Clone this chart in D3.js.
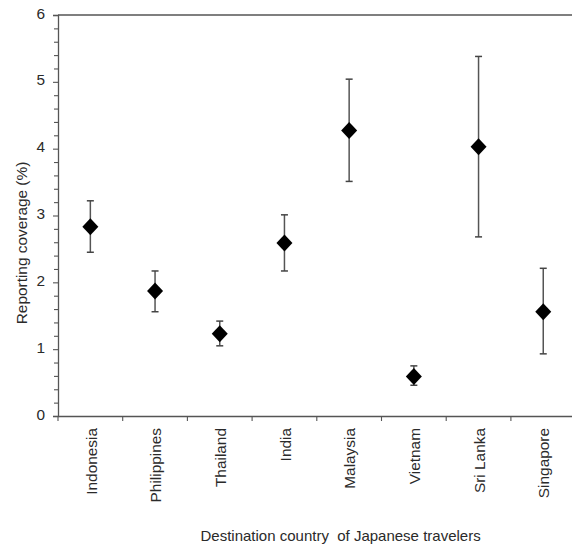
<!DOCTYPE html>
<html><head><meta charset="utf-8">
<script src="https://cdn.jsdelivr.net/npm/d3@7"></script>
<style>body{margin:0;background:#fff}svg{display:block}</style>
</head><body>
<svg id="c" width="572" height="547"></svg>
<script>
const categories = ["Indonesia","Philippines","Thailand","India","Malaysia","Vietnam","Sri Lanka","Singapore"];
const values = [2.83,1.87,1.23,2.59,4.27,0.59,4.03,1.56];
const upper = [3.22,2.17,1.42,3.01,5.04,0.75,5.38,2.21];
const lower = [2.45,1.56,1.05,2.17,3.51,0.46,2.68,0.93];
const yTicks = [0,1,2,3,4,5,6];

const svg = d3.select("#c");
const L = 58, R = 575.6, T = 15, B = 416;
const x = d3.scaleBand().domain(categories).range([L, R]);
const y = d3.scaleLinear().domain([0, 6]).range([B, T]);
const axisColor = "#555", textColor = "#2a2a2a";
const font = "'Liberation Sans', Arial, sans-serif";
const fs = "15.4px";

// frame top/right
svg.append("line").attr("x1", L).attr("x2", R).attr("y1", T).attr("y2", T).attr("stroke", axisColor).attr("stroke-width", 1.3);
svg.append("line").attr("x1", R).attr("x2", R).attr("y1", T).attr("y2", B).attr("stroke", axisColor).attr("stroke-width", 1.3);

// y axis
const yAxis = svg.append("g").attr("transform", `translate(${L},0)`)
  .call(d3.axisLeft(y).tickValues(yTicks).tickFormat(d3.format("d")).tickSize(5).tickPadding(8));
yAxis.append("g").call(d3.axisLeft(y).tickValues(d3.range(0, 6.001, 0.2).filter(v => Math.abs(v - Math.round(v)) > 1e-6)).tickSize(4).tickFormat(""));
yAxis.selectAll(".domain").attr("stroke", axisColor).attr("stroke-width", 1.3);
yAxis.selectAll(".tick line").attr("stroke", axisColor).attr("stroke-width", 1.1);
yAxis.selectAll(".tick text").attr("fill", textColor).attr("dy", "0.2em").style("font-family", font).style("font-size", fs);
yAxis.selectAll("g g .domain").remove();

// x axis
const xAxis = svg.append("g").attr("transform", `translate(0,${B})`)
  .call(d3.axisBottom(x).tickSize(0).tickSizeOuter(0).tickFormat(""));
xAxis.select(".domain").attr("stroke", axisColor).attr("stroke-width", 1.3);
xAxis.selectAll(".tick").remove();
const bounds = categories.map(c => x(c));
svg.append("g").selectAll("line").data(bounds).join("line")
  .attr("x1", d => d).attr("x2", d => d).attr("y1", B).attr("y2", B + 5)
  .attr("stroke", axisColor).attr("stroke-width", 1.1);
svg.append("g").selectAll("text").data(categories).join("text")
  .attr("transform", d => `translate(${x(d) + x.bandwidth() / 2 + 6.2},${B + 12}) rotate(-90)`)
  .attr("text-anchor", "end").attr("fill", textColor)
  .style("font-family", font).style("font-size", fs).text(d => d);

// error bars
const g = svg.append("g");
categories.forEach((c, i) => {
  const cx = x(c) + x.bandwidth() / 2;
  g.append("line").attr("x1", cx).attr("x2", cx).attr("y1", y(upper[i])).attr("y2", y(lower[i])).attr("stroke", "#555").attr("stroke-width", 1.5);
  [upper[i], lower[i]].forEach(v => g.append("line").attr("x1", cx - 3.5).attr("x2", cx + 3.5).attr("y1", y(v)).attr("y2", y(v)).attr("stroke", "#444").attr("stroke-width", 1.5));
});
// diamonds
g.selectAll("path.pt").data(categories).join("path").attr("class", "pt")
  .attr("d", (c, i) => {
    const cx = x(c) + x.bandwidth() / 2, cy = y(values[i]);
    return `M${cx},${cy - 8.5}L${cx + 8},${cy}L${cx},${cy + 8.5}L${cx - 8},${cy}Z`;
  }).attr("fill", "#000");

// titles
svg.append("text").attr("transform", `translate(26.5,243) rotate(-90)`)
  .attr("text-anchor", "middle").attr("fill", textColor).style("font-family", font).style("font-size", fs)
  .text("Reporting coverage (%)");
svg.append("text").attr("x", 200.5).attr("y", 541).attr("text-anchor", "start").attr("fill", textColor)
  .style("font-family", font).style("font-size", "15px").style("white-space", "pre")
  .text("Destination country  of Japanese travelers");
</script>
</body></html>
